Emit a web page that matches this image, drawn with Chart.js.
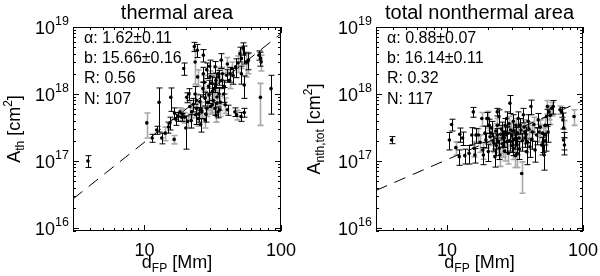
<!DOCTYPE html>
<html><head><meta charset="utf-8">
<script src="https://cdn.jsdelivr.net/npm/chart.js@4.4.1/dist/chart.umd.min.js"></script>
<style>
html,body{margin:0;padding:0;background:#fff;}
#wrap{position:relative;width:600px;height:276px;overflow:hidden;}
canvas{position:absolute;top:0;}
</style></head><body>
<div id="wrap"><canvas id="c1" width="300" height="276" style="left:0"></canvas><canvas id="c2" width="300" height="276" style="left:300px"></canvas></div>
<script>
const FONT = '"Liberation Sans", Arial, Helvetica, sans-serif';

// ---- axis ticks ----
const xMajorTicks = [10, 100];
const xTickLabels = ['10', '100'];
const yMajorExps = [16, 17, 18, 19];
const xRange = [3, 100];
const yRange = [9e15, 1e19];

// ---- thermal area panel ----
const thermalTitle = 'thermal area';
const thermalD = [10.4,11.4,12.3,12.8,13.4,15.0,15.6,15.4,16.5,16.6,17.7,18.2,18.7,19.6,20.1,20.7,19.4,20.4,21.2,22.2,
  23.2,23.5,24.4,27.0,23.5,24.1,23.7,24.8,25.5,26.3,27.0,27.8,28.6,27.8,28.6,29.7,30.2,31.1,31.4,32.9,
  32.5,33.4,33.8,32.9,34.7,35.2,35.7,34.5,36.8,37.2,38.4,40.0,39.0,40.6,42.3,43.5,46.0,47.3,50.9,53.8,
  46.6,48.5,50.0,51.3,52.7,54.0,55.5,51.3,53.8,57.0,69.0,70.7,71.5,70.7,84.5,57.7,21.5,22.8,24.0,25.0,
  26.0,26.8,27.5,28.2,29.0,29.5,30.5,31.5,32.0,33.0,34.0,35.0,36.0,30.0,25.8,19.0,17.0,14.2,38.0,42.0,
  44.5,24.5,22.0,33.5,36.5,40.5,3.86];
const thermalA = [3.7e17,2.2e17,2.9e17,7.5e17,2.2e17,3.2e17,8.9e17,3.7e17,2.1e17,5.2e17,4.6e17,5.4e17,4.5e17,4.5e17,3.1e17,3.9e17,2.4e18,8.9e17,1.0e18,5.4e17,
  5.1e18,3.0e18,4.5e18,3.8e18,1.0e18,6.1e17,4.9e17,4.3e17,7.7e17,5.4e17,2.0e18,4.1e17,2.3e18,8.6e17,6.1e17,9.7e17,1.8e18,1.45e18,6.9e17,2.55e18,
  1.2e18,1.6e18,7.3e17,6.1e17,2.0e18,1.0e18,5.8e17,5.4e17,1.6e18,2.0e18,1.3e18,1.9e18,6.9e17,5.8e17,2.0e18,2.4e18,5.4e17,4.9e17,4.6e17,5.3e17,
  2.55e18,2.9e18,4.0e18,3.4e18,4.8e18,4.0e18,3.0e18,2.0e18,1.36e18,3.0e18,3.8e18,3.4e18,3.0e18,8.9e17,1.2e18,3.2e18,6.5e17,7.0e17,8.0e17,5.0e17,
  6.0e17,1.2e18,1.5e18,5.0e17,7.5e17,1.3e18,6.5e17,1.1e18,8.0e17,1.4e18,9.0e17,1.8e18,7.5e17,2.6e18,3.5e17,5.0e17,4.2e17,2.6e17,1.0e18,1.6e18,
  1.9e18,1.8e18,4.0e17,4.8e17,3.2e18,2.8e18,1.0e17];
const thermalErr = [1.5e17,0.3e17,0.4e17,4.8e17,0.4e17,0.6e17,3.4e17,0.8e17,0.3e17,1.0e17,0.7e17,0.8e17,0.6e17,0.8e17,1.6e17,0.8e17,0.5e18,1.5e17,0.2e18,1.0e17,
  0.8e18,1.6e18,1.0e18,0.8e18,0.3e18,1.2e17,1.4e17,1.0e17,2.0e17,1.2e17,0.5e18,1.0e17,0.6e18,2.0e17,1.5e17,2.5e17,0.4e18,0.4e18,1.6e17,0.5e18,
  0.3e18,0.4e18,1.8e17,1.3e17,0.5e18,0.25e18,1.2e17,1.0e17,0.4e18,0.5e18,0.3e18,0.4e18,1.8e17,1.0e17,0.5e18,0.6e18,0.8e17,0.8e17,0.7e17,0.8e17,
  0.8e18,0.8e18,1.0e18,1.0e18,1.0e18,1.2e18,1.2e18,0.6e18,0.5e18,1.0e18,0.6e18,0.8e18,0.8e18,5.5e17,0.7e18,0.9e18,1.5e17,1.6e17,2.0e17,1.2e17,
  1.5e17,0.3e18,0.4e18,1.2e17,1.8e17,0.3e18,1.5e17,0.3e18,2.0e17,0.35e18,2.2e17,0.45e18,1.8e17,0.6e18,0.8e17,1.0e17,0.8e17,0.6e17,0.25e18,0.4e18,
  0.5e18,0.5e18,0.9e17,1.0e17,0.8e18,0.7e18,0.2e17];
const thermalGrey = [1,0,0,0,0,0,0,0,1,0,0,1,0,1,0,1,0,0,0,1,
  0,1,0,0,0,1,0,1,0,1,0,1,0,0,1,0,1,0,1,0,
  1,0,1,0,1,0,1,0,0,1,0,0,1,0,0,1,0,1,0,0,
  0,1,0,1,0,0,1,0,0,1,0,0,1,1,0,0,1,0,1,0,
  1,0,1,0,1,0,1,0,1,0,1,0,1,0,0,1,0,1,0,1,
  0,1,0,1,0,1,0];
const thermalAlpha = 1.62, thermalB = 15.66;
const thermalStats = ['α: 1.62±0.11', 'b: 15.66±0.16', 'R: 0.56', 'N: 107'];

// ---- total nonthermal area panel ----
const nonthermalTitle = 'total nonthermal area';
const nonthermalD = [10.8,10.4,11.6,12.4,13.0,12.3,13.5,15.6,15.2,15.8,16.3,17.0,16.0,18.0,18.5,18.3,19.3,19.6,20.1,20.1,
  20.7,20.4,21.3,22.1,22.5,23.4,23.4,23.4,23.8,24.2,24.5,25.7,26.0,26.7,27.0,27.5,27.5,28.2,29.0,29.3,
  29.8,30.7,30.7,32.1,32.1,32.5,32.8,33.4,33.9,34.4,35.4,36.4,37.4,38.5,38.9,39.5,40.7,41.4,42.5,44.4,
  45.6,46.8,47.5,49.7,50.4,50.9,51.7,52.6,53.9,54.7,56.1,55.3,58.9,60.4,67.8,69.6,71.2,72.0,72.0,73.0,
  85.9,52.6,37.4,3.91,21.0,21.8,22.8,23.0,24.8,25.2,25.5,26.3,26.5,27.8,28.5,28.8,30.0,30.3,31.0,31.5,
  33.0,34.0,35.0,35.8,36.8,38.0,40.0,42.0,43.5,19.0,17.5,14.5,48.5,53.0,57.5,24.0,31.8];
const nonthermalA = [3.5e17,2.06e17,1.58e17,2.5e17,2.2e17,1.16e17,1.2e17,5.4e17,2.44e17,1.55e17,2.44e17,2.44e17,1.23e17,4.3e17,1.23e17,1.46e17,2.06e17,4.3e17,4.3e17,1.38e17,
  2.3e17,3.4e17,3.1e17,1.84e17,1.16e17,5.4e17,3.4e17,2.44e17,1.94e17,1.55e17,1.23e17,2.2e17,1.63e17,3.4e17,2.44e17,4.3e17,1.94e17,1.3e17,7.3e17,2.9e17,
  1.94e17,3.9e17,1.55e17,2.44e17,3.4e17,1.73e17,1.3e17,4.3e17,2.2e17,3.4e17,6.5e16,4.9e17,2.7e17,1.38e17,1.94e17,3.9e17,1.63e17,6.5e17,2.7e17,1.46e17,
  2.44e17,4.1e17,2.7e17,1.73e17,2.6e17,1.94e17,1.23e17,3.4e17,4.6e17,6.5e17,5.4e17,2.7e17,6.1e17,6.5e17,5.8e17,5.4e17,4.1e17,3.1e17,2.06e17,1.73e17,
  4.6e17,2.44e17,2.2e17,2.06e17,2.6e17,2.0e17,2.8e17,1.7e17,2.5e17,3.0e17,1.8e17,2.2e17,1.4e17,2.6e17,3.6e17,2.0e17,2.4e17,1.7e17,2.8e17,2.1e17,
  2.6e17,1.5e17,2.9e17,2.0e17,3.2e17,2.5e17,3.0e17,2.1e17,3.5e17,2.6e17,1.9e17,1.3e17,3.2e17,2.0e17,4.8e17,4.6e17,1.2e17];
const nonthermalErr = [0.7e17,0.6e17,0.35e17,0.6e17,0.5e17,0.3e17,0.3e17,0.9e17,0.7e17,0.4e17,0.6e17,0.6e17,0.3e17,1.0e17,0.35e17,0.4e17,0.5e17,1.0e17,1.2e17,0.4e17,
  0.6e17,0.8e17,0.8e17,0.5e17,0.35e17,0.7e17,0.9e17,0.6e17,0.6e17,0.5e17,0.4e17,0.6e17,0.5e17,0.9e17,0.7e17,1.1e17,0.6e17,0.4e17,2.2e17,0.8e17,
  0.6e17,1.0e17,0.5e17,0.7e17,0.9e17,0.5e17,0.5e17,1.1e17,0.6e17,0.9e17,3.2e16,1.2e17,0.7e17,0.5e17,0.6e17,1.0e17,0.5e17,1.6e17,0.7e17,0.5e17,
  0.7e17,1.0e17,0.8e17,0.5e17,0.8e17,0.6e17,0.5e17,1.0e17,1.3e17,1.5e17,1.3e17,0.8e17,1.4e17,1.5e17,0.8e17,0.9e17,1.1e17,0.9e17,0.6e17,0.5e17,
  1.2e17,0.7e17,0.6e17,0.25e17,0.7e17,0.6e17,0.8e17,0.5e17,0.7e17,0.8e17,0.5e17,0.6e17,0.4e17,0.7e17,1.0e17,0.6e17,0.7e17,0.5e17,0.8e17,0.6e17,
  0.7e17,0.45e17,0.8e17,0.6e17,0.9e17,0.7e17,0.8e17,0.6e17,1.0e17,0.7e17,0.55e17,0.4e17,0.9e17,0.6e17,1.3e17,1.2e17,0.4e17];
const nonthermalGrey = [0,0,1,0,0,0,0,0,0,1,0,1,0,1,0,1,0,0,1,0,
  1,0,0,1,0,0,1,0,1,0,1,0,1,0,1,0,0,1,0,1,
  0,0,1,0,1,0,1,0,1,0,1,0,1,0,1,0,0,0,1,0,
  0,0,1,0,1,0,0,1,0,1,1,0,1,0,1,0,0,1,0,0,
  1,1,0,0,1,0,1,0,1,0,1,0,1,0,1,0,1,0,1,0,
  1,0,1,0,1,0,1,0,1,0,1,0,1,0,1,0,1];
const nonthermalAlpha = 0.88, nonthermalB = 16.14;
const nonthermalStats = ['α: 0.88±0.07', 'b: 16.14±0.11', 'R: 0.32', 'N: 117'];

// ---------- drawing helpers ----------
function rich(ctx, x, y, parts, align) {
  let w = 0;
  parts.forEach(p => { ctx.font = p[1] + 'px ' + FONT; w += ctx.measureText(p[0]).width; });
  let cx = align === 'center' ? x - w / 2 : (align === 'right' ? x - w : x);
  parts.forEach(p => {
    ctx.font = p[1] + 'px ' + FONT;
    ctx.fillText(p[0], cx, y + (p[2] || 0));
    cx += ctx.measureText(p[0]).width;
  });
}

function makePanel(canvasId, cfg) {
  const pts = cfg.d.map((d, i) => ({x: d, y: cfg.a[i]}));
  const fitY = x => Math.pow(10, cfg.b + cfg.alpha * Math.log10(x));
  const fitPts = xRange.map(x => ({x: x, y: fitY(x)}));

  const errPlugin = {
    id: 'err',
    beforeDatasetsDraw(chart) {
      const ctx = chart.ctx, a = chart.chartArea, xs = chart.scales.x, ys = chart.scales.y;
      ctx.save();
      ctx.beginPath(); ctx.rect(a.left, a.top, a.right - a.left, a.bottom - a.top); ctx.clip();
      [1, 0].forEach(pass => {
        ctx.strokeStyle = pass ? '#a8a8a8' : '#000';
        ctx.lineWidth = pass ? 1.6 : 1;
        cfg.d.forEach((d, i) => {
          if (cfg.grey[i] !== pass) return;
          const px = Math.round(xs.getPixelForValue(d)) + 0.5;
          const hi = cfg.a[i] + cfg.err[i];
          const lo = cfg.a[i] - cfg.err[i];
          const pyHi = ys.getPixelForValue(hi);
          const pyLo = lo > 0 ? ys.getPixelForValue(lo) : a.bottom + 5;
          ctx.beginPath();
          ctx.moveTo(px, pyHi); ctx.lineTo(px, pyLo);
          ctx.moveTo(px - 3, pyHi); ctx.lineTo(px + 3, pyHi);
          ctx.moveTo(px - 3, pyLo); ctx.lineTo(px + 3, pyLo);
          ctx.stroke();
        });
      });
      ctx.restore();
    }
  };

  const framePlugin = {
    id: 'frame',
    afterDraw(chart) {
      const ctx = chart.ctx, a = chart.chartArea, xs = chart.scales.x, ys = chart.scales.y;
      ctx.save();
      ctx.strokeStyle = '#000'; ctx.lineWidth = 1;
      ctx.strokeRect(a.left + 0.5, a.top + 0.5, a.right - a.left - 1, a.bottom - a.top - 1);
      ctx.beginPath();
      for (let e = 15; e <= 19; e++) {
        for (let m = 1; m <= 9; m++) {
          const v = m * Math.pow(10, e);
          if (v < yRange[0] || v > yRange[1]) continue;
          const py = Math.round(ys.getPixelForValue(v)) + 0.5;
          const len = m === 1 ? 6 : 3;
          ctx.moveTo(a.left, py); ctx.lineTo(a.left + len, py);
          ctx.moveTo(a.right, py); ctx.lineTo(a.right - len, py);
        }
      }
      for (let e = 0; e <= 2; e++) {
        for (let m = 1; m <= 9; m++) {
          const v = m * Math.pow(10, e);
          if (v < xRange[0] || v > xRange[1]) continue;
          const px = Math.round(xs.getPixelForValue(v)) + 0.5;
          const len = m === 1 ? 6 : 3;
          ctx.moveTo(px, a.bottom); ctx.lineTo(px, a.bottom - len);
          ctx.moveTo(px, a.top); ctx.lineTo(px, a.top + len);
        }
      }
      ctx.stroke();

      ctx.fillStyle = '#000';
      ctx.textBaseline = 'alphabetic';
      yMajorExps.forEach(e => {
        const py = ys.getPixelForValue(Math.pow(10, e));
        rich(ctx, a.left - 4, py + 7, [['10', 18], [String(e), 12.5, -9]], 'right');
      });
      xMajorTicks.forEach((v, i) => {
        const px = xs.getPixelForValue(v);
        rich(ctx, px, 256, [[xTickLabels[i], 18]], 'center');
      });
      rich(ctx, (a.left + a.right) / 2, 268, [['d', 18], ['FP', 12, 4], [' [Mm]', 18]], 'center');
      ctx.save();
      ctx.translate(20, (a.top + a.bottom) / 2);
      ctx.rotate(-Math.PI / 2);
      rich(ctx, 0, 0, cfg.ytitle, 'center');
      ctx.restore();
      rich(ctx, (a.left + a.right) / 2, 19, [[cfg.title, 20]], 'center');
      cfg.stats.forEach((s, i) => {
        rich(ctx, a.left + 11, 43 + 20.2 * i, [[s, 16]], 'left');
      });
      ctx.restore();
    }
  };

  return new Chart(document.getElementById(canvasId), {
    type: 'scatter',
    data: {
      datasets: [
        {data: pts, pointRadius: 1.8, pointBackgroundColor: '#000', pointBorderWidth: 0, showLine: false},
        {type: 'line', data: fitPts, borderColor: '#000', borderWidth: 1, borderDash: [12, 8],
         pointRadius: 0, fill: false, tension: 0}
      ]
    },
    options: {
      responsive: false, animation: false, devicePixelRatio: 1,
      layout: {padding: cfg.pad},
      scales: {
        x: {type: 'logarithmic', min: xRange[0], max: xRange[1], display: false},
        y: {type: 'logarithmic', min: yRange[0], max: yRange[1], display: false}
      },
      plugins: {legend: {display: false}, tooltip: {enabled: false}}
    },
    plugins: [errPlugin, framePlugin]
  });
}

makePanel('c1', {
  d: thermalD, a: thermalA, err: thermalErr, grey: thermalGrey,
  alpha: thermalAlpha, b: thermalB, stats: thermalStats, title: thermalTitle,
  ytitle: [['A', 18], ['th', 12, 4], [' [cm', 18], ['2', 12, -8], [']', 18]],
  pad: {left: 73, right: 19, top: 27, bottom: 45}
});
makePanel('c2', {
  d: nonthermalD, a: nonthermalA, err: nonthermalErr, grey: nonthermalGrey,
  alpha: nonthermalAlpha, b: nonthermalB, stats: nonthermalStats, title: nonthermalTitle,
  ytitle: [['A', 18], ['nth,tot', 12, 4], [' [cm', 18], ['2', 12, -8], [']', 18]],
  pad: {left: 76, right: 17, top: 27, bottom: 45}
});
</script>
</body></html>
